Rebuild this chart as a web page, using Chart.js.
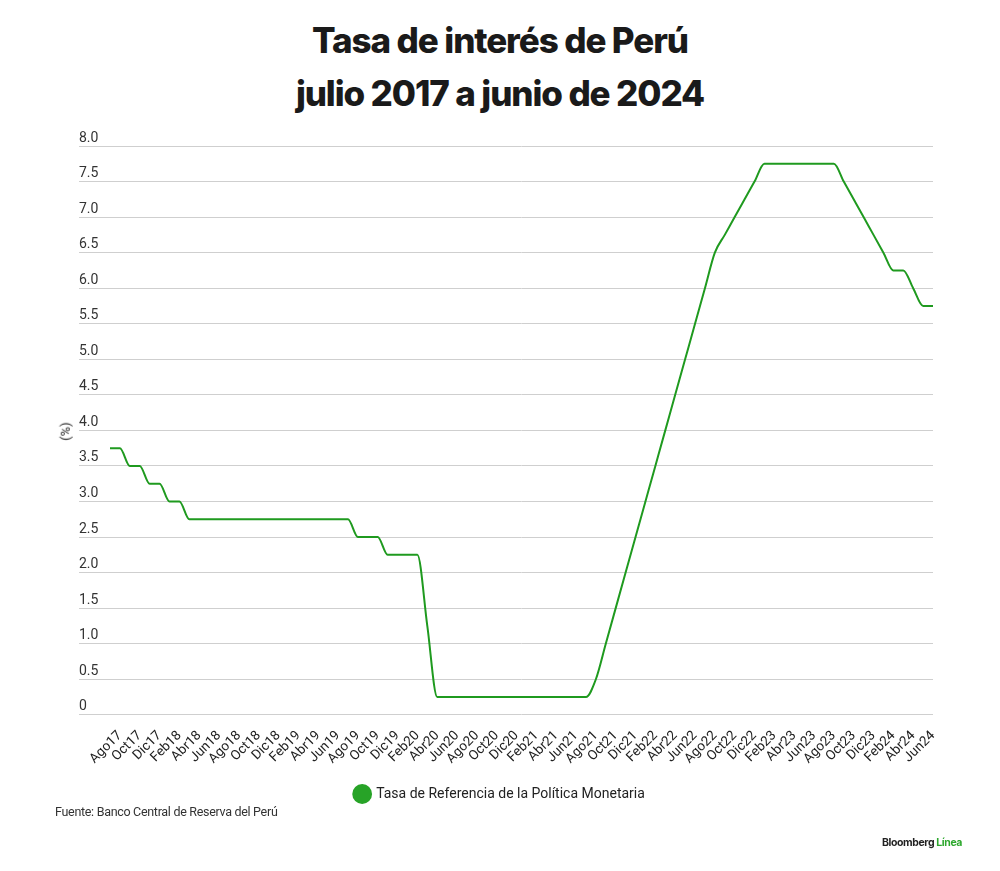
<!DOCTYPE html>
<html>
<head>
<meta charset="utf-8">
<script src="https://cdn.jsdelivr.net/npm/chart.js@4.4.1/dist/chart.umd.min.js"></script>
<style>
  html, body { margin: 0; padding: 0; background: #fff; }
  #wrap { position: relative; width: 1000px; height: 871px; overflow: hidden; }
  #chart { position: absolute; left: 0; top: 0; }
  .title {
    position: absolute; left: 0; width: 1000px; text-align: center;
    font-family: Inter, sans-serif; font-weight: 800; font-size: 35px;
    letter-spacing: -1.1px; color: #1a1a1a; line-height: 53px;
  }
  #ylab {
    position: absolute; left: 56px; top: 424px; font: 13px Roboto, sans-serif; color: #222;
    transform: rotate(-90deg); transform-origin: center;
  }
  #source { position: absolute; left: 55px; top: 804px; font: 12.5px Roboto, sans-serif; color: #333; letter-spacing: -0.3px; }
  #brand { position: absolute; left: 882px; top: 836px; font: bold 10.5px Inter, sans-serif; color: #222; letter-spacing: -0.4px; }
  #brand span { color: #2ea82e; }
</style>
</head>
<body>
<div id="wrap">
  <div class="title" style="top:14px">Tasa de interés de Perú</div>
  <div class="title" style="top:67px">julio 2017 a junio de 2024</div>
  <canvas id="chart" width="1000" height="871"></canvas>
  <div id="ylab">(%)</div>
  <div id="source">Fuente: Banco Central de Reserva del Perú</div>
  <div id="brand">Bloomberg <span>Línea</span></div>
</div>
<script>
/* --------------- Data --------------------- */
const months = [
  "Jul17", "Ago17", "Sep17", "Oct17", "Nov17", "Dic17",
  "Ene18", "Feb18", "Mar18", "Abr18", "May18", "Jun18", "Jul18", "Ago18", "Sep18", "Oct18", "Nov18", "Dic18",
  "Ene19", "Feb19", "Mar19", "Abr19", "May19", "Jun19", "Jul19", "Ago19", "Sep19", "Oct19", "Nov19", "Dic19",
  "Ene20", "Feb20", "Mar20", "Abr20", "May20", "Jun20", "Jul20", "Ago20", "Sep20", "Oct20", "Nov20", "Dic20",
  "Ene21", "Feb21", "Mar21", "Abr21", "May21", "Jun21", "Jul21", "Ago21", "Sep21", "Oct21", "Nov21", "Dic21",
  "Ene22", "Feb22", "Mar22", "Abr22", "May22", "Jun22", "Jul22", "Ago22", "Sep22", "Oct22", "Nov22", "Dic22",
  "Ene23", "Feb23", "Mar23", "Abr23", "May23", "Jun23", "Jul23", "Ago23", "Sep23", "Oct23", "Nov23", "Dic23",
  "Ene24", "Feb24", "Mar24", "Abr24", "May24", "Jun24",
];

const tasaReferencia = [
  3.75, 3.75, 3.5, 3.5, 3.25, 3.25,
  3.0, 3.0, 2.75, 2.75, 2.75, 2.75, 2.75, 2.75, 2.75, 2.75, 2.75, 2.75,
  2.75, 2.75, 2.75, 2.75, 2.75, 2.75, 2.75, 2.5, 2.5, 2.5, 2.25, 2.25,
  2.25, 2.25, 1.25, 0.25, 0.25, 0.25, 0.25, 0.25, 0.25, 0.25, 0.25, 0.25,
  0.25, 0.25, 0.25, 0.25, 0.25, 0.25, 0.25, 0.5, 1.0, 1.5, 2.0, 2.5,
  3.0, 3.5, 4.0, 4.5, 5.0, 5.5, 6.0, 6.5, 6.75, 7.0, 7.25, 7.5,
  7.75, 7.75, 7.75, 7.75, 7.75, 7.75, 7.75, 7.75, 7.5, 7.25, 7.0, 6.75,
  6.5, 6.25, 6.25, 6.0, 5.75, 5.75,
];

const seriesName = "Tasa de Referencia de la Política Monetaria";
const lineColor = "#1f9a1f";
const legendColor = "#27a327";

// legend sits a bit left of the plot centre in the original
const nudgeLegend = {
  id: "nudgeLegend",
  afterLayout(chart) {
    chart.legend.left -= 6;
    chart.legend.right -= 6;
  },
};

/* --------------- Chart --------------------- */
const ctx = document.getElementById("chart");
new Chart(ctx, {
  type: "line",
  plugins: [nudgeLegend],
  data: {
    labels: months,
    datasets: [
      {
        label: seriesName,
        data: tasaReferencia,
        borderColor: lineColor,
        backgroundColor: legendColor,
        borderWidth: 2,
        pointRadius: 0,
        cubicInterpolationMode: "monotone",
      },
    ],
  },
  options: {
    responsive: false,
    animation: false,
    layout: { padding: { left: 79, right: 67, top: 146, bottom: 60 } },
    plugins: {
      tooltip: { enabled: false },
      legend: {
        position: "bottom",
        labels: {
          usePointStyle: true,
          pointStyle: "circle",
          boxWidth: 15,
          boxHeight: 15,
          color: "#222",
          font: { family: "Roboto", size: 14 },
          padding: 15,
          // solid dot, no darker outline
          generateLabels: (chart) =>
            Chart.defaults.plugins.legend.labels.generateLabels(chart).map((l) => ({
              ...l,
              strokeStyle: legendColor,
              lineWidth: 0,
            })),
        },
      },
    },
    scales: {
      x: {
        border: { display: false },
        grid: { display: false },
        ticks: {
          autoSkip: false,
          maxRotation: 45,
          minRotation: 45,
          color: "#222",
          padding: 5,
          font: { family: "Roboto", size: 13.5 },
          // only every second month gets a label
          callback: (v, i) => (i % 2 === 1 ? months[i] : ""),
        },
      },
      y: {
        min: 0,
        max: 8,
        border: { display: false },
        grid: { color: "#cfcfcf", lineWidth: 1, tickLength: 31 },
        afterFit: (scale) => { scale.width = 31; },
        ticks: {
          stepSize: 0.5,
          crossAlign: "far",
          labelOffset: -8,
          color: "#333",
          font: { family: "Roboto", size: 14 },
          callback: (v) => (v === 0 ? "0" : v.toFixed(1)),
        },
      },
    },
  },
});
</script>
</body>
</html>
